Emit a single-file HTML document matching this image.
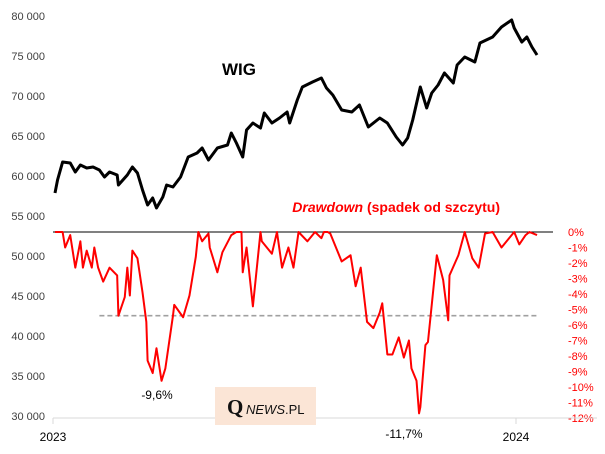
<!DOCTYPE html>
<html><head><meta charset="utf-8">
<style>
body{margin:0;background:#fff;}
svg{display:block;font-family:"Liberation Sans",sans-serif;}
</style></head>
<body>
<svg id="c" width="605" height="454" viewBox="0 0 605 454" xmlns="http://www.w3.org/2000/svg">
<g id="axes"></g>
<g id="series"></g>
<text x="222" y="75" font-size="17" font-weight="bold">WIG</text>
<text x="500" y="212" font-size="14" font-weight="bold" fill="#ff0000" text-anchor="end"><tspan font-style="italic">Drawdown</tspan> (spadek od szczytu)</text>
<text x="157" y="399" font-size="12" text-anchor="middle">-9,6%</text>
<text x="404" y="438" font-size="12" text-anchor="middle">-11,7%</text>
<g>
<rect x="215" y="387" width="101" height="38" fill="#fbe5d6"/>
<text x="227" y="414" font-family="Liberation Serif,serif" font-size="21" font-weight="bold" fill="#111">Q</text>
<text x="246" y="414" font-size="13" fill="#111"><tspan font-style="italic">NEWS</tspan>.PL</text>
</g>
</svg>
<script>
const wigDays=[0,2,6,12,16,20,25,30,35,39,43,49,50,57,61,65,69,73,77,80,85,88,93,99,105,112,116,121,128,136,139,143,148,151,156,162,165,171,177,183,185,191,195,203,210,214,219,226,234,240,247,256,262,269,274,278,282,288,293,297,302,307,314,317,323,331,335,340,345,352,360,362,368,372,376,380];
const wigValues=[57875,59500,61750,61625,60500,61375,61000,61125,60750,59875,60500,60125,58875,60125,61125,60375,58250,56375,57250,56000,57375,58875,58625,59875,62375,62875,63500,62000,63500,63875,65375,64125,62375,65750,66625,66000,67875,66625,67250,68000,66625,69500,71125,71750,72250,71000,70125,68250,68000,68875,66125,67250,66625,64875,63875,64750,67000,71125,68500,70375,71375,72875,71625,73875,74875,74250,76625,77000,77375,78625,79500,78500,76750,77375,76125,75125];
const ddDays=[0,6,8,12,16,20,22,25,29,31,34,38,43,49,50,55,57,59,61,65,69,72,73,77,80,84,87,93,94,101,106,111,113,116,121,122,128,132,139,143,147,148,151,156,162,163,171,175,179,184,188,192,199,205,210,212,215,217,226,233,237,241,246,251,256,258,262,266,271,275,279,281,285,287,288,292,294,301,306,310,311,318,323,329,334,339,345,352,362,366,371,374,380];
const ddValues=[0,0,-1.0,-0.2,-2.3,-0.6,-2.3,-1.2,-2.3,-1.0,-2.3,-3.2,-2.3,-2.8,-5.4,-4.2,-2.3,-4.1,-1.2,-1.7,-3.9,-5.8,-8.3,-9.1,-7.5,-9.6,-8.8,-5.4,-4.7,-5.5,-4.1,-1.6,0,-0.6,-0.1,-1.0,-2.6,-1.3,-0.2,0,0,-2.6,-1.0,-4.8,0,-0.6,-1.4,0,-2.3,-1.0,-2.3,0,-0.6,0,-0.4,0,0,-0.1,-1.9,-1.5,-3.5,-2.3,-5.8,-6.2,-5.2,-4.6,-7.9,-7.9,-6.8,-8.1,-7.0,-8.8,-9.6,-11.7,-11.3,-7.3,-7.1,-1.5,-3.1,-5.7,-2.8,-1.5,0,-1.7,-2.3,-0.1,0,-1.0,0,-0.8,-0.2,0,-0.2,-1.5,-3.1,-2.6,-4.1,-5.4];
const leftTicks=[30000,35000,40000,45000,50000,55000,60000,65000,70000,75000,80000];
const rightTicks=[0,-1,-2,-3,-4,-5,-6,-7,-8,-9,-10,-11,-12];
const yearLabels=["2023","2024"];
const yearDays=[0,365];
const thresholdPct=-5.4;

const NS="http://www.w3.org/2000/svg";
const xS=d=>55+d*463/365;
const yL=v=>16+(80000-v)*0.008;
const yR=p=>232-p*15.5;
function mk(tag,attrs,parent){const e=document.createElementNS(NS,tag);for(const k in attrs)e.setAttribute(k,attrs[k]);parent.appendChild(e);return e;}
const ax=document.getElementById('axes'),se=document.getElementById('series');

leftTicks.forEach(v=>{
 const t=mk('text',{x:45,y:yL(v)+4,'font-size':11,fill:'#404040','text-anchor':'end'},ax);
 t.textContent=v.toLocaleString('en-US').replace(',',' ');
 
 
});
rightTicks.forEach(p=>{
 const t=mk('text',{x:568,y:yR(p)+4,'font-size':11,fill:'#ff0000'},ax);
 t.textContent=p+'%';
 
 
});
const xa=mk('line',{x1:53,x2:597,y1:418,y2:418,stroke:'#d9d9d9','stroke-width':1},ax);


yearLabels.forEach((l,i)=>{
 const x=xS(yearDays[i]);
 mk('line',{x1:x-2,x2:x-2,y1:418,y2:424,stroke:'#d9d9d9'},ax);
 const t=mk('text',{x:x-2,y:441,'font-size':12,'text-anchor':'middle',fill:'#000'},ax);
 t.textContent=l;
 
 
});
const zl=mk('line',{x1:53,x2:553,y1:yR(0),y2:yR(0),stroke:'#000','stroke-width':1},se);


const th=mk('line',{x1:xS(35),x2:xS(380),y1:yR(thresholdPct),y2:yR(thresholdPct),stroke:'#a0a0a0','stroke-width':1.6,'stroke-dasharray':'5,3'},se);


const dd=mk('polyline',{points:ddDays.map((d,i)=>xS(d)+','+yR(ddValues[i])).join(' '),fill:'none',stroke:'#ff0000','stroke-width':2,'stroke-linejoin':'round'},se);


const wl=mk('polyline',{points:wigDays.map((d,i)=>xS(d)+','+yL(wigValues[i])).join(' '),fill:'none',stroke:'#000','stroke-width':3,'stroke-linejoin':'round'},se);


</script>
</body></html>
